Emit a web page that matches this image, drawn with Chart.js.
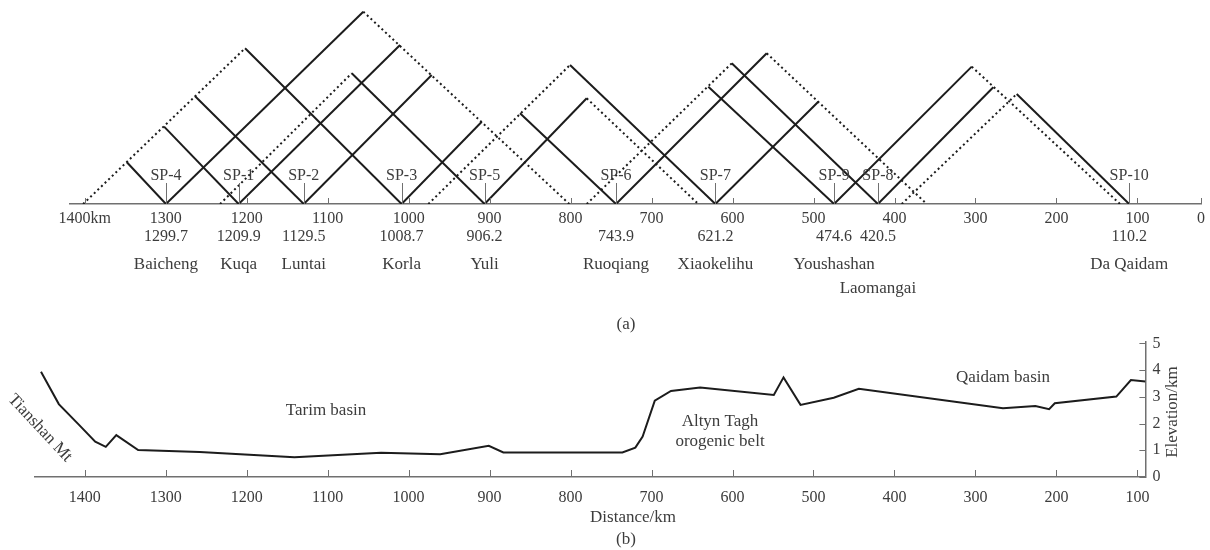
<!DOCTYPE html>
<html>
<head>
<meta charset="utf-8">
<script src="https://cdn.jsdelivr.net/npm/chart.js@4.4.0/dist/chart.umd.min.js"></script>
<style>
  body { margin: 0; background: #fff; }
  #wrap { position: relative; width: 1210px; height: 550px; }
  canvas { position: absolute; left: 0; }
  #shots { top: 0; }
  #relief { top: 325px; }
</style>
</head>
<body>
<div id="wrap">
  <canvas id="shots" width="1210" height="335"></canvas>
  <canvas id="relief" width="1210" height="225"></canvas>
</div>
<script>
// (a) shot points along the profile, km
const shotNames = ['SP-4', 'SP-1', 'SP-2', 'SP-3', 'SP-5', 'SP-6', 'SP-7', 'SP-9', 'SP-8', 'SP-10']
const shotKm = [1299.7, 1209.9, 1129.5, 1008.7, 906.2, 743.9, 621.2, 474.6, 420.5, 110.2]
const shotPlaces = ['Baicheng', 'Kuqa', 'Luntai', 'Korla', 'Yuli', 'Ruoqiang', 'Xiaokelihu', 'Youshashan', 'Laomangai', 'Da Qaidam']
const placeLower = [0, 0, 0, 0, 0, 0, 0, 0, 1, 0]   // Laomangai sits on a second row

// solid rays: which shot they start from, and where they end (km, offset)
const rayShot  = [0, 0, 1, 1, 2, 2, 3, 3, 4, 4, 5, 5, 6, 6, 7, 7, 8, 8, 9]
const rayEndKm = [1348, 1056, 1302, 1010.6, 1264, 971.5, 1202, 909.7, 1070.3, 780.1, 862.5, 557.8, 800.7, 494.1, 629.9, 304.6, 601, 278, 249.1]
const rayEndH  = [51.5, 237.5, 95.5, 196.3, 133.4, 159.3, 192.3, 101.6, 161.4, 130.5, 112, 186.1, 171.7, 126.3, 144.9, 169.6, 173.7, 144.1, 135.8]

// dotted rays
const dotFromKm = [1402, 1056, 1232.9, 975.7, 780.1, 780.1, 557.8, 304.6, 391.1]
const dotFromH  = [0, 237.5, 0, 0, 130.5, 0, 186.1, 169.6, 0]
const dotToKm   = [1202, 801.6, 1070.3, 800.7, 642.3, 601, 360.2, 121.5, 249.1]
const dotToH    = [192.3, 0, 161.4, 171.7, 0, 173.7, 0, 0, 135.8]

const topTicks = [1400, 1300, 1200, 1100, 1000, 900, 800, 700, 600, 500, 400, 300, 200, 100]

// (b) topography
const reliefKm   = [1454, 1432, 1407, 1387, 1374, 1361, 1334, 1258, 1141, 1034, 961, 901, 883, 736, 720, 711, 696, 676, 640, 549, 537, 516, 475, 444, 266, 226, 209, 202, 126, 108, 90]
const reliefElev = [3.94, 2.73, 1.95, 1.32, 1.13, 1.57, 1.01, 0.94, 0.74, 0.91, 0.85, 1.17, 0.92, 0.92, 1.10, 1.51, 2.86, 3.22, 3.35, 3.07, 3.73, 2.70, 2.97, 3.30, 2.57, 2.66, 2.54, 2.76, 3.01, 3.63, 3.58]
const reliefTicks = [1400, 1300, 1200, 1100, 1000, 900, 800, 700, 600, 500, 400, 300, 200, 100]
const elevTicks = [0, 1, 2, 3, 4, 5]

const lineColor = '#1c1c1c'
const axisColor = '#707070'
const textColor = '#3c3c3c'
const serif = '"Liberation Serif", "DejaVu Serif", serif'
const reliefTop = 325   // page offset of the lower canvas

const stroke = (ctx, x1, y1, x2, y2) => {
    ctx.beginPath()
    ctx.moveTo(x1, y1)
    ctx.lineTo(x2, y2)
    ctx.stroke()
}

// ---------- panel (a) ----------
const rayData = []
rayShot.forEach((s, i) => {
    rayData.push({
        data: [{x: shotKm[s], y: 0}, {x: rayEndKm[i], y: rayEndH[i]}],
        borderColor: lineColor,
        borderWidth: 2,
    })
})
dotFromKm.forEach((k, i) => {
    rayData.push({
        data: [{x: k, y: dotFromH[i]}, {x: dotToKm[i], y: dotToH[i]}],
        borderColor: lineColor,
        borderWidth: 2,
        borderDash: [2, 3],
    })
})

const axisEndKm = 21.5   // the drawn "0" sits at the end of the axis line

const shotMarks = {
    id: 'shotMarks',
    afterDraw(chart) {
        const {ctx, scales: {x}} = chart
        const base = chart.chartArea.bottom
        ctx.save()
        ctx.strokeStyle = axisColor
        ctx.lineWidth = 1
        x.ticks.forEach(t => {
            const px = Math.round(x.getPixelForValue(t.value)) + 0.5
            stroke(ctx, px, base, px, base - 6)
        })
        shotKm.forEach(k => {
            const px = Math.round(x.getPixelForValue(k)) + 0.5
            stroke(ctx, px, base, px, base - 21)
        })
        ctx.fillStyle = textColor
        ctx.textAlign = 'center'
        ctx.textBaseline = 'middle'
        ctx.font = `16px ${serif}`
        shotKm.forEach((k, i) => {
            const px = x.getPixelForValue(k)
            ctx.fillText(shotNames[i], px, base - 28)
            ctx.fillText(k.toFixed(1), px, base + 33)
        })
        ctx.font = `17px ${serif}`
        shotKm.forEach((k, i) => {
            const px = x.getPixelForValue(k)
            ctx.fillText(shotPlaces[i], px, base + (placeLower[i] ? 85 : 61))
        })
        ctx.fillText('(a)', 626, 325)
        ctx.restore()
    }
}

new Chart(document.getElementById('shots'), {
    type: 'line',
    data: {datasets: rayData},
    options: {
        responsive: false,
        animation: false,
        layout: {padding: {left: 70, right: 9, top: 0, bottom: 0}},
        plugins: {legend: {display: false}, tooltip: {enabled: false}},
        elements: {point: {radius: 0}, line: {tension: 0}},
        scales: {
            x: {
                type: 'linear',
                reverse: true,
                min: axisEndKm,
                max: 1418.2,
                afterFit: s => { s.height = 131 },
                afterBuildTicks: s => {
                    s.ticks = topTicks.map(v => ({value: v})).concat([{value: axisEndKm}])
                },
                grid: {display: false, drawTicks: false},
                border: {display: true, color: axisColor, width: 1.5},
                ticks: {
                    autoSkip: false,
                    maxRotation: 0,
                    padding: 5,
                    color: textColor,
                    font: {family: serif, size: 16},
                    callback: v => v === 1400 ? '1400km' : (v < 50 ? '0' : String(v))
                }
            },
            y: {display: false, min: 0, max: 251.9}
        }
    },
    plugins: [shotMarks]
})

// ---------- panel (b) ----------
const reliefMarks = {
    id: 'reliefMarks',
    afterDraw(chart) {
        const {ctx, scales: {x, y}} = chart
        const base = chart.chartArea.bottom
        const right = chart.chartArea.right
        const at = yPage => yPage - reliefTop
        ctx.save()
        ctx.strokeStyle = axisColor
        ctx.lineWidth = 1
        x.ticks.forEach(t => {
            const px = Math.round(x.getPixelForValue(t.value)) + 0.5
            stroke(ctx, px, base, px, base - 7)
        })
        y.ticks.forEach(t => {
            const py = Math.round(y.getPixelForValue(t.value)) + 0.5
            stroke(ctx, right, py, right - 6, py)
        })
        ctx.fillStyle = textColor
        ctx.textAlign = 'center'
        ctx.textBaseline = 'middle'
        ctx.font = `17px ${serif}`
        ctx.fillText('Tarim basin', 326, at(411))
        ctx.fillText('Altyn Tagh', 720, at(422))
        ctx.fillText('orogenic belt', 720, at(442))
        ctx.fillText('Qaidam basin', 1003, at(378))
        ctx.fillText('Distance/km', 633, at(518))
        ctx.fillText('(b)', 626, at(540))

        ctx.save()
        ctx.translate(40, at(428))
        ctx.rotate(47 * Math.PI / 180)
        ctx.fillText('Tianshan Mt', 0, 0)
        ctx.restore()

        ctx.save()
        ctx.translate(1173, at(412))
        ctx.rotate(-Math.PI / 2)
        ctx.fillText('Elevation/km', 0, 0)
        ctx.restore()
        ctx.restore()
    }
}

new Chart(document.getElementById('relief'), {
    type: 'line',
    data: {
        datasets: [{
            data: reliefKm.map((k, i) => ({x: k, y: reliefElev[i]})),
            borderColor: lineColor,
            borderWidth: 2,
        }]
    },
    options: {
        responsive: false,
        animation: false,
        layout: {padding: {left: 34.6, right: 0, top: 0, bottom: 0}},
        plugins: {legend: {display: false}, tooltip: {enabled: false}},
        elements: {point: {radius: 0}, line: {tension: 0}},
        scales: {
            x: {
                type: 'linear',
                reverse: true,
                min: 90.1,
                max: 1461.9,
                afterFit: s => { s.height = 73 },
                afterBuildTicks: s => { s.ticks = reliefTicks.map(v => ({value: v})) },
                grid: {display: false, drawTicks: false},
                border: {display: true, color: axisColor, width: 1.5},
                ticks: {
                    autoSkip: false,
                    maxRotation: 0,
                    padding: 11,
                    color: textColor,
                    font: {family: serif, size: 16},
                    callback: v => String(v)
                }
            },
            y: {
                position: 'right',
                min: 0,
                max: 5.07,
                afterFit: s => { s.width = 64.6 },
                afterBuildTicks: s => { s.ticks = elevTicks.map(v => ({value: v})) },
                grid: {display: false, drawTicks: false},
                border: {display: true, color: axisColor, width: 1.5},
                ticks: {padding: 7, color: textColor, font: {family: serif, size: 16}}
            }
        }
    },
    plugins: [reliefMarks]
})
</script>
</body>
</html>
